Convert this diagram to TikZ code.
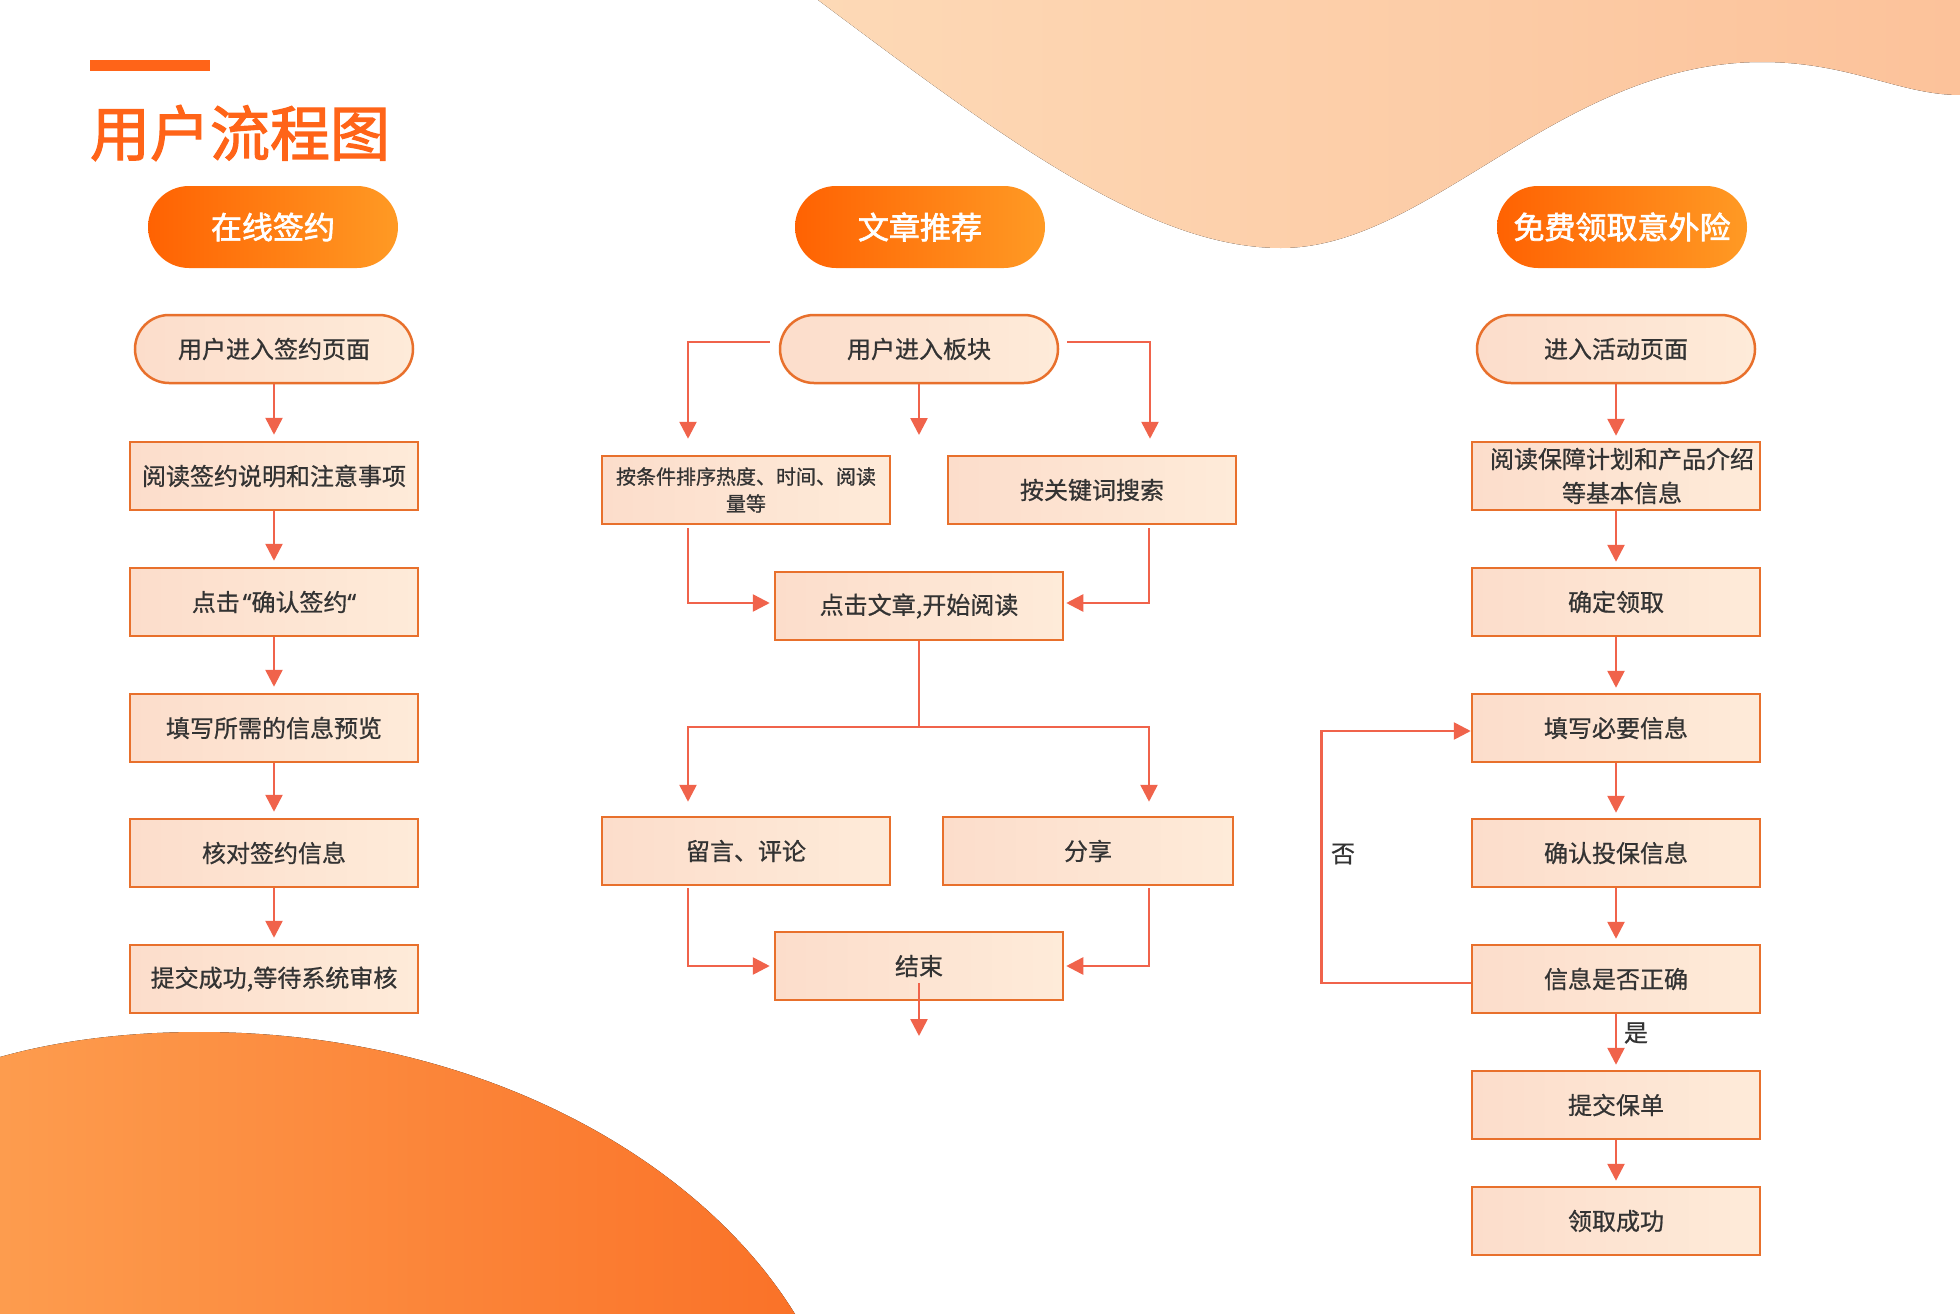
\documentclass[tikz,border=0pt]{standalone}
\usepackage{fontspec}
\setmainfont{Noto Sans CJK SC}
\newfontfamily\medfont{Noto Sans CJK SC}[FakeBold=2]
\newfontfamily\nodefont{Noto Sans CJK SC}[FakeBold=0.7]
\newfontfamily\quotefont{Noto Sans}[FakeBold=0.7]
\usetikzlibrary{arrows.meta}
\definecolor{ttl}{HTML}{FF6418}
\definecolor{hdrL}{HTML}{FF6202}
\definecolor{hdrR}{HTML}{FF9A24}
\definecolor{boxL}{HTML}{FCDDCB}
\definecolor{boxR}{HTML}{FEEBD9}
\definecolor{boxline}{HTML}{E8702C}
\definecolor{arrc}{HTML}{F0634B}
\definecolor{txt}{HTML}{333333}
\definecolor{pchL}{HTML}{FDD9B6}
\definecolor{pchR}{HTML}{FCC29A}
\definecolor{orgL}{HTML}{FD9C4E}
\definecolor{orgR}{HTML}{FA7228}
\begin{document}
\begin{tikzpicture}[x=1pt,y=-1pt,
  box/.style={draw=boxline, line width=2.5pt, left color=boxL, right color=boxR,
    minimum width=288pt, minimum height=68pt, inner sep=0pt, text=txt,
    font=\nodefont\fontsize{24pt}{30pt}\selectfont, align=center},
  pill/.style={box, rounded corners=34pt, minimum width=278pt},
  hdr/.style={rounded corners=41pt, minimum width=250pt, minimum height=82pt,
    left color=hdrL, right color=hdrR, text=white, inner sep=0pt,
    font=\medfont\fontsize{31pt}{36pt}\selectfont},
  conn/.style={draw=arrc, line width=2.6pt},
  arr/.style={conn, -{Triangle[width=17pt,length=17pt]}},
  lbl/.style={text=txt, font=\nodefont\fontsize{24pt}{28pt}\selectfont, inner sep=0pt}
]
\useasboundingbox (0,0) rectangle (1960,1314);
\fill[white] (0,0) rectangle (1960,1314);
% background shapes
\fill[left color=pchL, right color=pchR] (818,0) .. controls (1005,140) and (1150,248) .. (1281,248)
  .. controls (1430,248) and (1560,62) .. (1762,62)
  .. controls (1850,62) and (1900,95) .. (1960,95) -- (1960,0) -- cycle;
\fill[left color=orgL, right color=orgR] (0,1057) .. controls (60,1040) and (130,1032) .. (199,1032)
  .. controls (480,1032) and (700,1160) .. (795,1314) -- (0,1314) -- cycle;
% title
\fill[ttl] (90,60) rectangle (210,71);
\node[text=ttl, font=\medfont\fontsize{60pt}{66pt}\selectfont, inner sep=0pt] (title) at (240,133) {用户流程图};
% headers
\node[hdr] (h1) at (273,227) {\raisebox{-3pt}{在线签约}};
\node[hdr] (h2) at (920,227) {\raisebox{-3pt}{文章推荐}};
\node[hdr] (h3) at (1622,227) {\raisebox{-3pt}{免费领取意外险}};
% column 1
\node[pill] (a0) at (274,349) {用户进入签约页面};
\node[box] (a1) at (274,476) {阅读签约说明和注意事项};
\node[box] (a2) at (274,602) {点击\kern3pt{\quotefont“}确认签约{\quotefont“}};
\node[box] (a3) at (274,728) {填写所需的信息预览};
\node[box] (a4) at (274,853) {核对签约信息};
\node[box] (a5) at (274,979) {提交成功,等待系统审核};
\foreach \u/\v in {a0/a1,a1/a2,a2/a3,a3/a4,a4/a5}
  \draw[arr, shorten >=6pt] (\u.south) -- (\v.north);
% column 2
\node[pill] (b0) at (919,349) {用户进入板块};
\node[box, font=\nodefont\fontsize{20pt}{27pt}\selectfont] (b1) at (746,490) {按条件排序热度、时间、阅读\\量等};
\node[box] (b2) at (1092,490) {按关键词搜索};
\node[box] (b3) at (919,606) {点击文章,开始阅读};
\node[box] (b4) at (746,851) {留言、评论};
\node[box, minimum width=290pt] (b5) at (1088,851) {分享};
\node[box] (b6) at (919,966) {结束};
\coordinate (bm) at (919,435);
\coordinate (split) at (919,727);
\coordinate (bend) at (919,1036);
\draw[arr] ([xshift=-9pt,yshift=7pt]b0.west) -| ([xshift=-58pt,yshift=16pt]b1.north);
\draw[arr] (b0.south) -- (bm);
\draw[arr] ([xshift=8pt,yshift=7pt]b0.east) -| ([xshift=58pt,yshift=16pt]b2.north);
\draw[arr, shorten >=4pt] ([xshift=-58pt,yshift=-3pt]b1.south) |- ([yshift=3pt]b3.west);
\draw[arr, shorten >=2pt] ([xshift=57pt,yshift=-3pt]b2.south) |- ([yshift=3pt]b3.east);
\draw[conn] (b3.south) -- (split);
\draw[arr] (split) -| ([xshift=-58pt,yshift=14pt]b4.north);
\draw[arr] (split) -| ([xshift=61pt,yshift=14pt]b5.north);
\draw[arr, shorten >=4pt] ([xshift=-58pt,yshift=-2pt]b4.south) |- (b6.west);
\draw[arr, shorten >=2pt] ([xshift=61pt,yshift=-2pt]b5.south) |- (b6.east);
\draw[arr] ([yshift=-17pt]b6.center) -- (bend);
% column 3
\node[pill] (c0) at (1616,349) {进入活动页面};
\node[box, font=\nodefont\fontsize{24pt}{34pt}\selectfont] (c1) at (1616,476) {\hspace*{12pt}阅读保障计划和产品介绍\\\hspace*{12pt}等基本信息};
\node[box] (c2) at (1616,602) {确定领取};
\node[box] (c3) at (1616,728) {填写必要信息};
\node[box] (c4) at (1616,853) {确认投保信息};
\node[box] (c5) at (1616,979) {信息是否正确};
\node[box] (c6) at (1616,1105) {提交保单};
\node[box] (c7) at (1616,1221) {领取成功};
\foreach \u/\v in {c0/c1,c1/c2,c2/c3,c3/c4,c4/c5,c5/c6,c6/c7}
  \draw[arr, shorten >=5pt] (\u.south) -- (\v.north);
\draw[arr] ([yshift=-4pt]c5.west) -- ++(-149,0) |- ([yshift=-3pt]c3.west);
\node[lbl] (no) at (1343,854) {否};
\node[lbl] (yes) at (1636,1033) {是};
\end{tikzpicture}
\end{document}
